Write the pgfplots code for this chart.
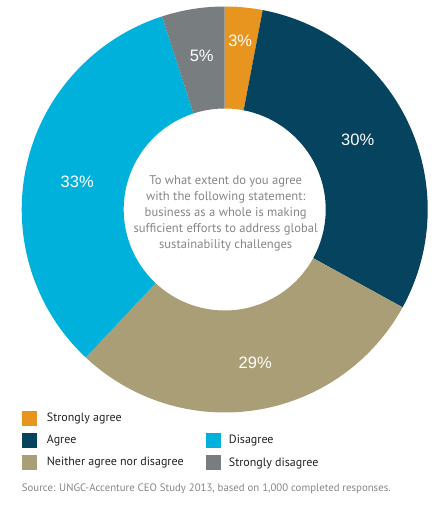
\documentclass[border=0pt]{standalone}
\usepackage{pgfplots}
\usepackage{pgfplotstable}
\pgfplotsset{compat=1.18}
\usetikzlibrary{calc}
\usepackage{fontspec}
\setmainfont{PT Sans}
\newfontfamily\pctfont{Liberation Sans}

\definecolor{cSA}{HTML}{E8951F}
\definecolor{cA}{HTML}{06435E}
\definecolor{cN}{HTML}{AA9E76}
\definecolor{cD}{HTML}{00B1DC}
\definecolor{cSD}{HTML}{787E80}
\definecolor{ctext}{HTML}{838689}
\definecolor{clegend}{HTML}{231F20}

\pgfplotstableread{
label value color
{Strongly agree} 3 cSA
Agree 30 cA
{Neither agree nor disagree} 29 cN
Disagree 33 cD
{Strongly disagree} 5 cSD
}\donutdata

\begin{document}
\begin{tikzpicture}
\begin{axis}[
    scale only axis,
    width=434pt, height=507pt,
    xmin=0, xmax=434, ymin=0, ymax=507,
    hide axis, clip=false
]
% keep the full canvas in the bounding box
\path (axis cs:0,0) rectangle (axis cs:434,507);

% donut segments, clockwise from 12 o'clock
\def\cum{0}
\pgfplotsforeachungrouped \i in {0,...,4}{
  \pgfplotstablegetelem{\i}{value}\of\donutdata \let\v\pgfplotsretval
  \pgfplotstablegetelem{\i}{color}\of\donutdata \let\c\pgfplotsretval
  \pgfmathsetmacro\aa{90-3.6*\cum}
  \pgfmathsetmacro\ab{90-3.6*(\cum+\v)}
  \edef\tmp{\noexpand\fill[\c] (axis cs:220,297.5) ++(\aa:203pt)
    arc[start angle=\aa, end angle=\ab, radius=203pt]
    -- ($(axis cs:220,297.5)+(\ab:101pt)$)
    arc[start angle=\ab, end angle=\aa, radius=101pt] -- cycle;}
  \tmp
  \pgfmathsetmacro\cum{\cum+\v}
}

% percentage labels
\node[white, font=\pctfont\fontsize{16.5}{18}\selectfont] at (axis cs:235.5,466.5) {3\%};
\node[white, font=\pctfont\fontsize{16.5}{18}\selectfont] at (axis cs:197,451.5) {5\%};
\node[white, font=\pctfont\fontsize{16.5}{18}\selectfont] at (axis cs:353,367) {30\%};
\node[white, font=\pctfont\fontsize{16.5}{18}\selectfont] at (axis cs:72.5,325.5) {33\%};
\node[white, font=\pctfont\fontsize{16.5}{18}\selectfont] at (axis cs:250.5,144) {29\%};

% centre question
\node[ctext, align=center, font=\fontsize{12.6}{16}\selectfont] at (axis cs:221,294)
  {To what extent do you agree\\with the following statement:\\business as a whole is making\\sufficient efforts to address global\\sustainability challenges};

% legend
\fill[cSA] (axis cs:17,80.5) rectangle (axis cs:32,95.5);
\fill[cA]  (axis cs:17,58.5) rectangle (axis cs:32,73.5);
\fill[cN]  (axis cs:17,36.5) rectangle (axis cs:32,51.5);
\fill[cD]  (axis cs:201,58.5) rectangle (axis cs:216,73.5);
\fill[cSD] (axis cs:201,36.5) rectangle (axis cs:216,51.5);
\node[clegend, anchor=west, inner sep=0pt, font=\fontsize{12}{14}\selectfont] at (axis cs:42,88) {Strongly agree};
\node[clegend, anchor=west, inner sep=0pt, font=\fontsize{12}{14}\selectfont] at (axis cs:42,66) {Agree};
\node[clegend, anchor=west, inner sep=0pt, font=\fontsize{12}{14}\selectfont] at (axis cs:42,44) {Neither agree nor disagree};
\node[clegend, anchor=west, inner sep=0pt, font=\fontsize{12}{14}\selectfont] at (axis cs:224,66) {Disagree};
\node[clegend, anchor=west, inner sep=0pt, font=\fontsize{12}{14}\selectfont] at (axis cs:224,44) {Strongly disagree};

% source line
\node[ctext, anchor=west, inner sep=0pt, font=\fontsize{10.8}{12}\selectfont] at (axis cs:17,18)
  {Source: UNGC-Accenture CEO Study 2013, based on 1,000 completed responses.};
\end{axis}
\end{tikzpicture}
\end{document}
